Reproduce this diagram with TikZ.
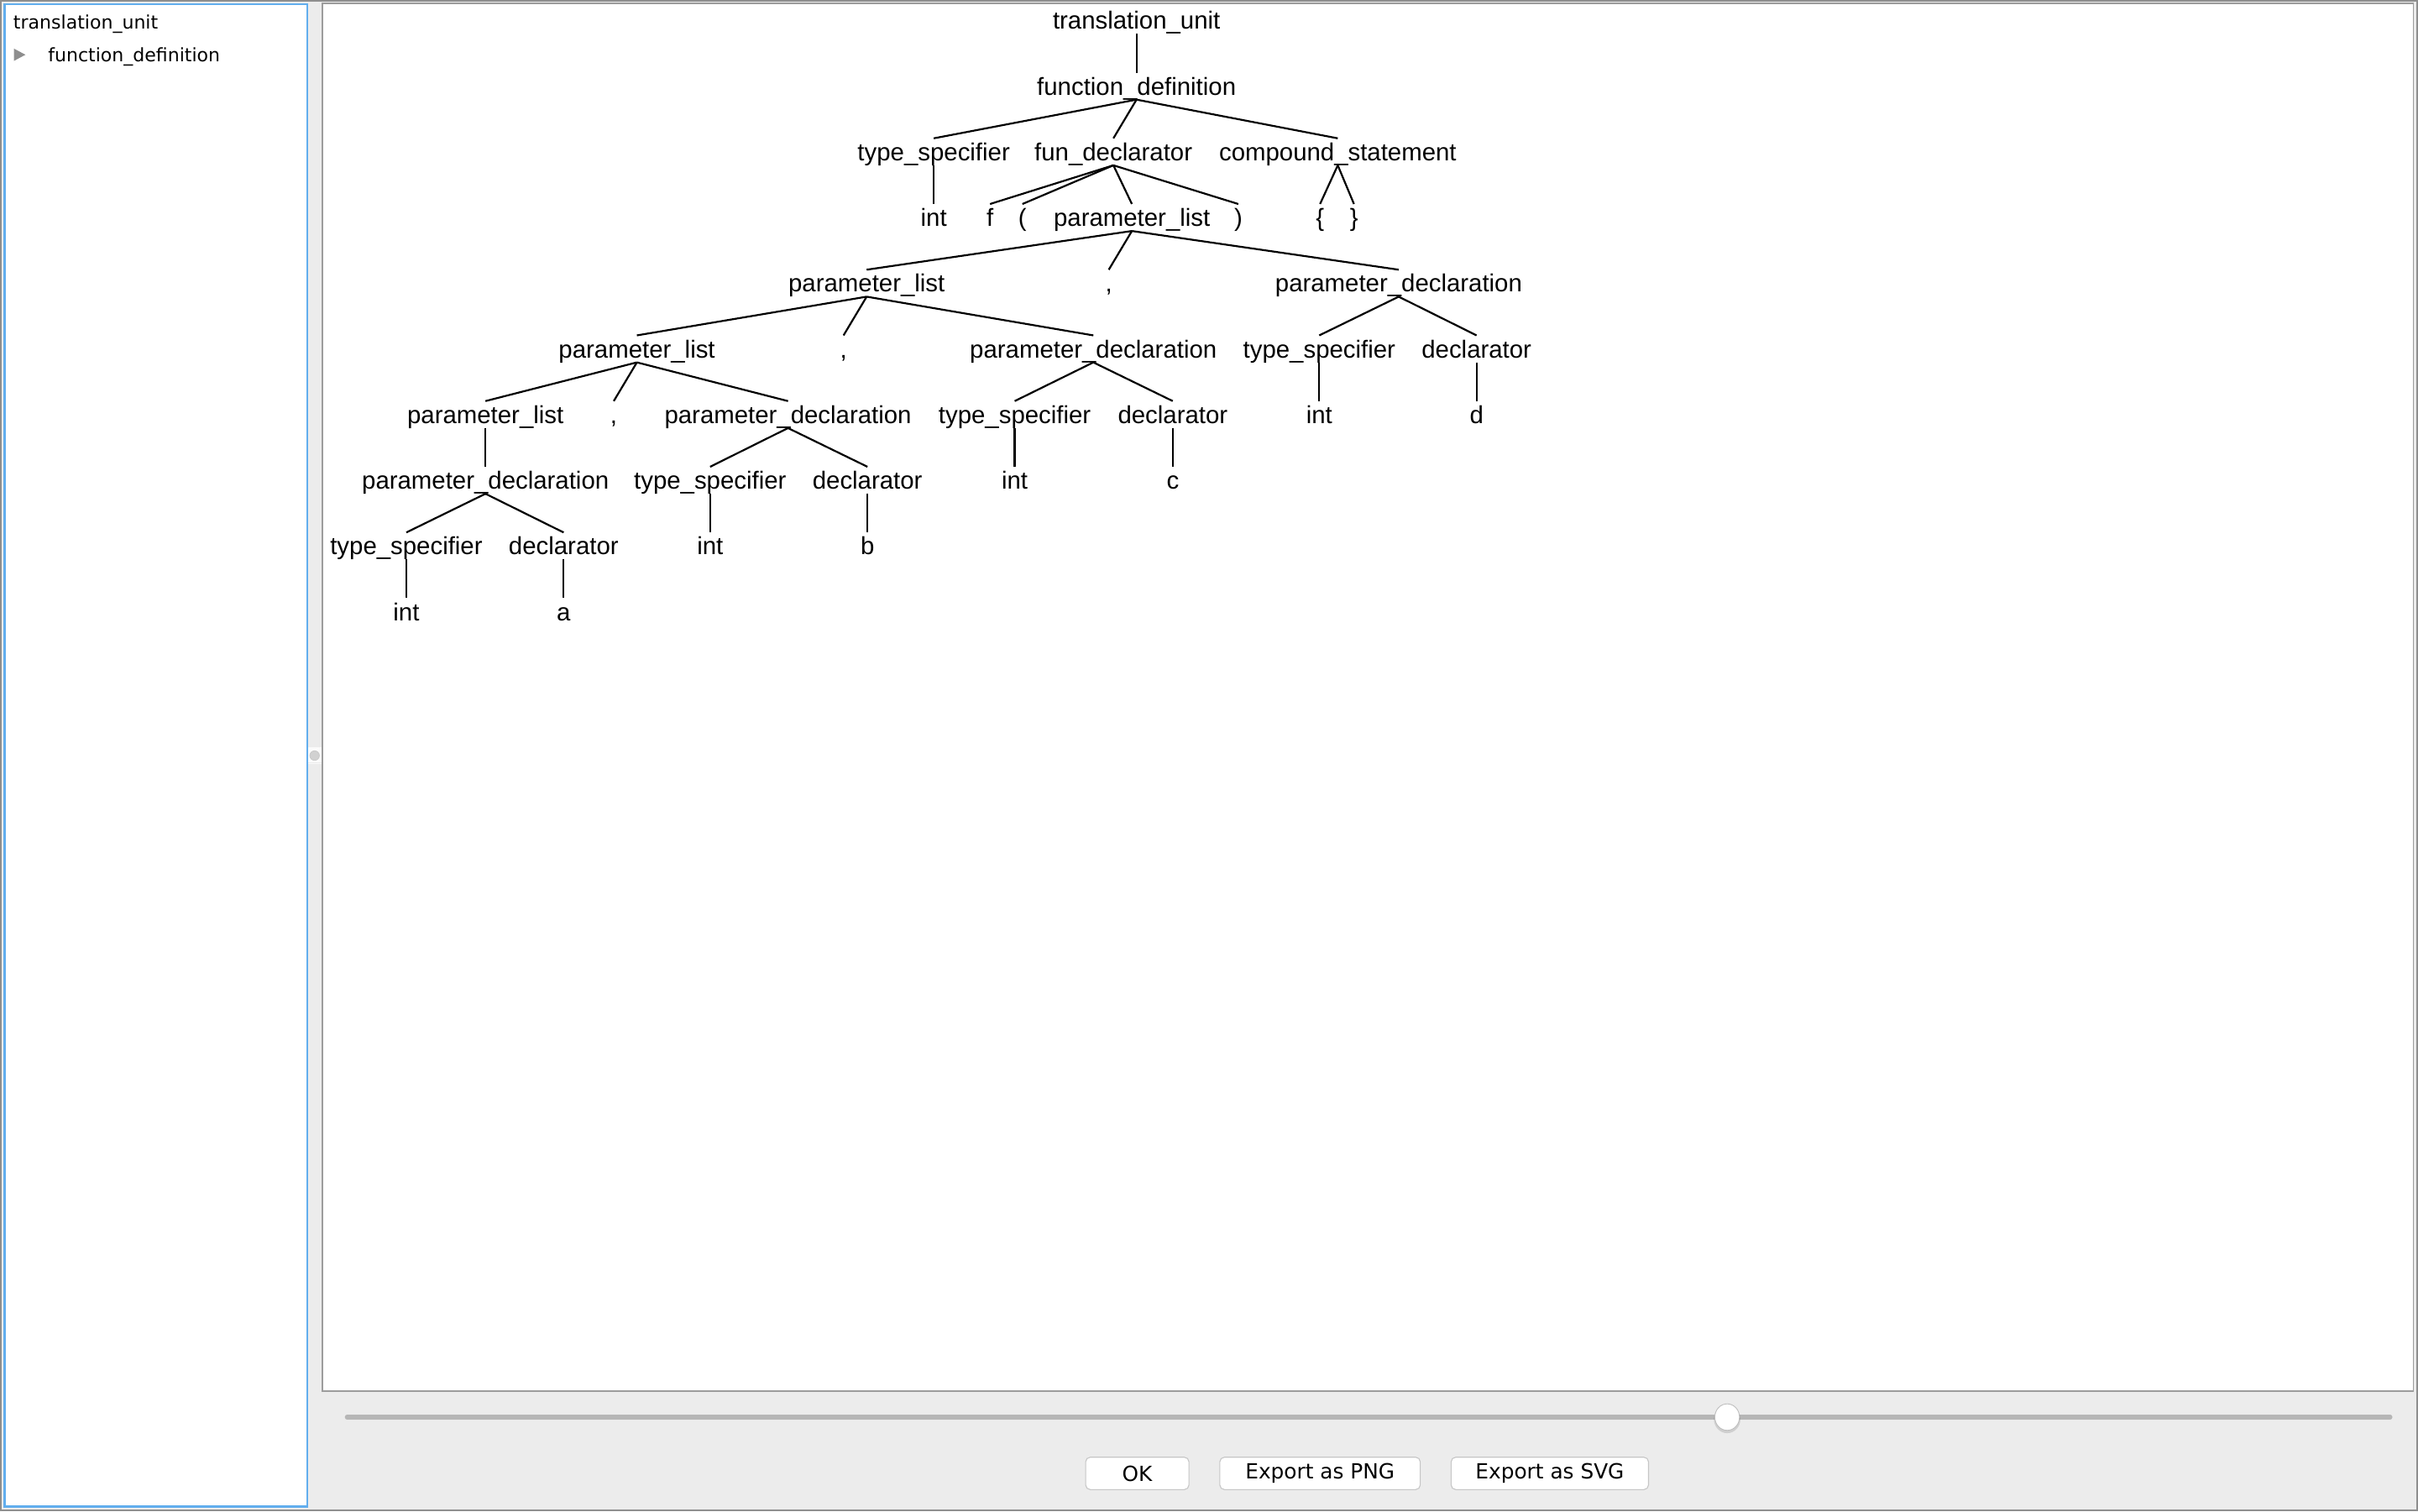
\documentclass[tikz,border=0pt]{standalone}
\usepackage{fontspec}
\setmainfont{Liberation Sans}
\newfontfamily\uifont{DejaVu Sans}
\definecolor{bggray}{HTML}{ECECEC}
\definecolor{wingray}{HTML}{8E8E8E}
\definecolor{cangray}{HTML}{9C9C9C}
\definecolor{selblue}{HTML}{62AEEE}
\definecolor{trackgray}{HTML}{B6B6B6}
\definecolor{btnborder}{HTML}{C6C6C6}
\definecolor{trigray}{HTML}{8E8E8E}
\tikzset{
  tn/.style={anchor=base, inner sep=0pt, font=\fontsize{16}{16}\selectfont},
  ui/.style={anchor=base west, inner sep=0pt, font=\uifont\fontsize{12}{12}\selectfont},
  btn/.style={draw=btnborder, fill=white, rounded corners=3pt, line width=0.6pt,
    minimum height=21pt, inner sep=0pt, font=\uifont\fontsize{13.5}{13.5}\selectfont},
  tl/.style={line width=1.2pt, black},
}
\begin{document}
\begin{tikzpicture}[x=1pt,y=-1pt]
\useasboundingbox (0,0) rectangle (1568,980);
\fill[bggray] (0,0) rectangle (1568,980);
\draw[wingray, line width=1.3pt] (0.65,0.65) rectangle (1567.35,979.35);
% left panel
\filldraw[fill=white, draw=selblue, line width=1.3pt] (3,2.6) rectangle (199.2,977);
\node[ui] (lt) at (8.5,19) {translation\_unit};
\node[ui] (lf) at (31,40) {function\_definition};
\fill[trigray] (9,31.5) -- (9,39.5) -- (16.5,35.5) -- cycle;
% divider grip
\draw[white!70!bggray, line width=0.6pt] (200,484.6) -- (208.5,484.6) (200,495) -- (208.5,495);
\fill[white!80!bggray] (200,485) rectangle (208.5,494.6);
\filldraw[fill=black!18, draw=black!22, line width=0.4pt] (204,490) circle (3.1);
% canvas
\filldraw[fill=white, draw=cangray, line width=1pt] (209,2) rectangle (1565,902);
% tree nodes
\node[tn] (tu) at (737,19) {translation\_unit};
\node[tn] (fd) at (737,61.6) {function\_definition};
\node[tn] (ts1) at (605.5,104.2) {type\_specifier};
\node[tn] (fdec) at (722,104.2) {fun\_declarator};
\node[tn] (cs) at (867.5,104.2) {compound\_statement};
\node[tn] (int1) at (605.5,146.8) {int};
\node[tn] (f) at (642,146.8) {f};
\node[tn] (lp) at (663,146.8) {(};
\node[tn] (pl1) at (734,146.8) {parameter\_list};
\node[tn] (rp) at (803,146.8) {)};
\node[tn] (lb) at (856,146.8) {\{};
\node[tn] (rb) at (878,146.8) {\}};
\node[tn] (pl2) at (562,189.4) {parameter\_list};
\node[tn] (c1) at (719,189.4) {,};
\node[tn] (pd1) at (907,189.4) {parameter\_declaration};
\node[tn] (pl3) at (413,232) {parameter\_list};
\node[tn] (c2) at (547,232) {,};
\node[tn] (pd2) at (709,232) {parameter\_declaration};
\node[tn] (ts2) at (855.5,232) {type\_specifier};
\node[tn] (dc1) at (957.5,232) {declarator};
\node[tn] (pl4) at (314.8,274.6) {parameter\_list};
\node[tn] (c3) at (398,274.6) {,};
\node[tn] (pd3) at (511,274.6) {parameter\_declaration};
\node[tn] (ts3) at (658,274.6) {type\_specifier};
\node[tn] (dc2) at (760.5,274.6) {declarator};
\node[tn] (int2) at (855.5,274.6) {int};
\node[tn] (d) at (957.5,274.6) {d};
\node[tn] (pd4) at (314.8,317.2) {parameter\_declaration};
\node[tn] (ts4) at (460.5,317.2) {type\_specifier};
\node[tn] (dc3) at (562.5,317.2) {declarator};
\node[tn] (int3) at (658,317.2) {int};
\node[tn] (cc) at (760.5,317.2) {c};
\node[tn] (ts5) at (263.5,359.8) {type\_specifier};
\node[tn] (dc4) at (365.5,359.8) {declarator};
\node[tn] (int4) at (460.5,359.8) {int};
\node[tn] (b) at (562.5,359.8) {b};
\node[tn] (int5) at (263.5,402.4) {int};
\node[tn] (a) at (365.5,402.4) {a};
% tree edges
\foreach \p/\c in {tu/fd, fd/ts1, fd/fdec, fd/cs, ts1/int1,
  fdec/f, fdec/lp, fdec/pl1, fdec/rp, cs/lb, cs/rb,
  pl1/pl2, pl1/c1, pl1/pd1, pl2/pl3, pl2/c2, pl2/pd2, pd1/ts2, pd1/dc1,
  pl3/pl4, pl3/c3, pl3/pd3, pd2/ts3, pd2/dc2, ts2/int2, dc1/d,
  pl4/pd4, pd3/ts4, pd3/dc3, ts3/int3, dc2/cc,
  pd4/ts5, pd4/dc4, ts4/int4, dc3/b, ts5/int5, dc4/a}
  \draw[tl] ([yshift=-3pt]\p.base) -- ([yshift=14.5pt]\c.base);
% slider
\draw[trackgray, line width=2.8pt, line cap=round] (225,919) -- (1550,919);
\fill[black, opacity=0.12] (1120,920.3) ellipse [x radius=8.6, y radius=9.1];
\filldraw[fill=white, draw=black!25, line width=0.5pt] (1120,919) ellipse [x radius=8, y radius=8.6];
% buttons
\node[btn, minimum width=67pt] (ok) at (737.5,955.5) {OK};
\node[btn, minimum width=130pt] (png) at (856,955.5) {Export as PNG};
\node[btn, minimum width=128pt] (svg) at (1005,955.5) {Export as SVG};
\end{tikzpicture}
\end{document}
